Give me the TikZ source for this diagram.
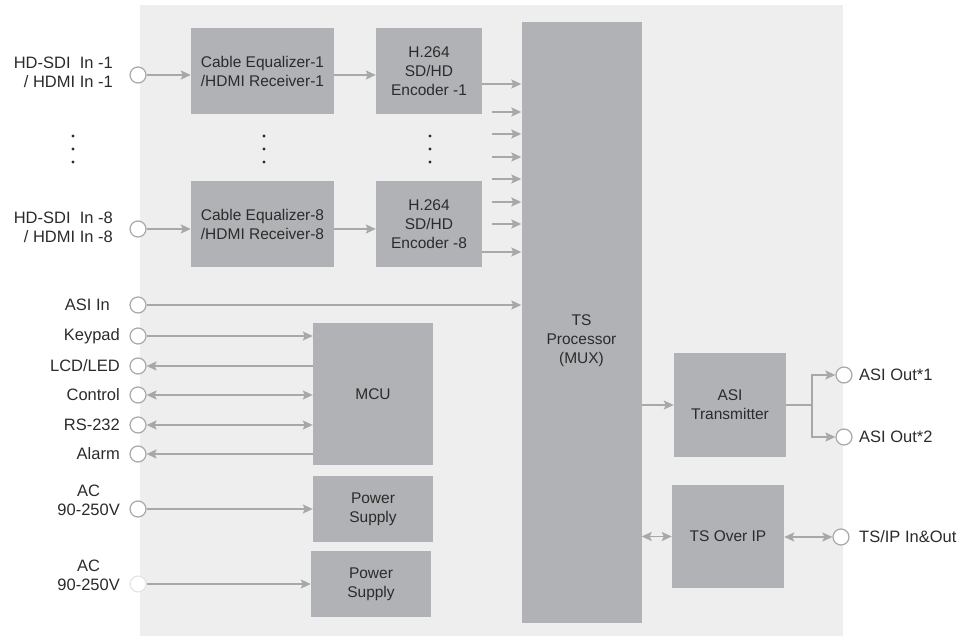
\documentclass[tikz,border=0pt]{standalone}
\usepackage{fontspec}
\setmainfont{Liberation Sans}
\usetikzlibrary{arrows.meta, positioning, calc}
\definecolor{panelgray}{HTML}{EEEEEE}
\definecolor{boxgray}{HTML}{B1B2B5}
\definecolor{linegray}{HTML}{A8A8A8}
\definecolor{textgray}{HTML}{2B2B2B}

\begin{document}
\begin{tikzpicture}[x=1pt, y=-1pt,
  every node/.style={text=textgray, font=\fontsize{15.5}{19}\selectfont},
  box/.style={rectangle, fill=boxgray, inner sep=0pt, align=center},
  port/.style={circle, draw=linegray, fill=white, line width=1.2pt, minimum size=16pt, inner sep=0pt},
  lbl/.style={inner sep=0pt, align=right, anchor=east, font=\fontsize{16.5}{19}\selectfont},
  rlbl/.style={inner sep=0pt, anchor=west, font=\fontsize{16.5}{19}\selectfont},
  arr/.style={draw=linegray, line width=1.8pt, -{Stealth[length=10pt, width=9pt, inset=2pt]}},
  biarr/.style={draw=linegray, line width=1.8pt, {Stealth[length=10pt, width=9pt, inset=2pt]}-{Stealth[length=10pt, width=9pt, inset=2pt]}}]
  \useasboundingbox (0,0) rectangle (964,636);
  \fill[panelgray] (140,5) rectangle (843,636);

  % blocks
  \node[box, minimum width=143pt, minimum height=86pt] (eq1) at (262.5,71) {Cable Equalizer-1\\/HDMI Receiver-1};
  \node[box, minimum width=143pt, minimum height=86pt] (eq8) at (262.5,224.5) {Cable Equalizer-8\\/HDMI Receiver-8};
  \node[box, minimum width=106pt, minimum height=86pt] (enc1) at (429,71) {H.264\\SD/HD\\Encoder -1};
  \node[box, minimum width=106pt, minimum height=86pt] (enc8) at (429,224.5) {H.264\\SD/HD\\Encoder -8};
  \node[box, minimum width=120pt, minimum height=601pt] (ts) at (581.5,322.5) {};
  \node[align=center, inner sep=0pt] (tstxt) at (581.5,341) {TS\\Processor\\(MUX)};
  \node[box, minimum width=120pt, minimum height=142pt] (mcu) at (373,394) {MCU};
  \node[box, minimum width=120pt, minimum height=66pt] (ps1) at (373,509) {Power\\Supply};
  \node[box, minimum width=120pt, minimum height=66pt] (ps2) at (371,584) {Power\\Supply};
  \node[box, minimum width=112pt, minimum height=104pt] (asitx) at (730,405) {ASI\\Transmitter};
  \node[box, minimum width=112pt, minimum height=103pt] (tsip) at (728,536.5) {TS Over IP};

  % ports
  \node[port] (c1) at (138,75) {};
  \node[port] (c8) at (138,229) {};
  \node[port] (casi) at (138,305) {};
  \node[port] (ckey) at (138,336) {};
  \node[port] (clcd) at (138,366) {};
  \node[port] (cctl) at (138,395) {};
  \node[port] (crs) at (138,425) {};
  \node[port] (calm) at (138,454) {};
  \node[port] (cac1) at (138,509) {};
  \node[port, draw=linegray!30] (cac2) at (138,584) {};
  \node[port] (cout1) at (844,375) {};
  \node[port] (cout2) at (844,437) {};
  \node[port] (cip) at (841,537) {};

  % port labels
  \node[lbl] (l1) at (113,72) {HD-SDI\ \ In -1\\/ HDMI In -1};
  \node[lbl] (l8) at (113,227) {HD-SDI\ \ In -8\\/ HDMI In -8};
  \node[lbl] (lasi) at (110,305) {ASI In};
  \node[lbl] (lkey) at (120,336) {Keypad};
  \node[lbl] (llcd) at (120,366) {LCD/LED};
  \node[lbl] (lctl) at (120,395) {Control};
  \node[lbl] (lrs) at (120,425) {RS-232};
  \node[lbl] (lalm) at (120,454) {Alarm};
  \node[lbl, align=center] (lac1) at (120,500) {AC\\90-250V};
  \node[lbl, align=center] (lac2) at (120,575) {AC\\90-250V};
  \node[rlbl] (lout1) at (859,375) {ASI Out*1};
  \node[rlbl] (lout2) at (859,437) {ASI Out*2};
  \node[rlbl] (lip) at (859,537) {TS/IP In\&Out};

  % ellipsis dots
  \foreach \x in {73,264,430}
    \foreach \y in {136,149,162}
      \fill[textgray] (\x,\y) circle (1.7pt);

  % video paths
  \draw[arr] (c1) -- (eq1.west |- c1);
  \draw[arr] (eq1.east |- c1) -- (enc1.west |- c1);
  \draw[arr] (c8) -- (eq8.west |- c8);
  \draw[arr] (eq8.east |- c8) -- (enc8.west |- c8);
  \coordinate (o1) at (482,84);
  \coordinate (o8) at (482,252);
  \draw[arr] (o1) -- (ts.west |- o1);
  \draw[arr] (o8) -- (ts.west |- o8);
  \foreach \y [count=\i] in {112,134,157,179,202,224} {
    \coordinate (s\i) at (492,\y);
    \draw[arr] (s\i) -- (ts.west |- s\i);
  }
  \draw[arr] (casi) -- (ts.west |- casi);

  % control and power
  \draw[arr] (ckey) -- (mcu.west |- ckey);
  \draw[arr] (mcu.west |- clcd) -- (clcd);
  \draw[biarr] (cctl) -- (mcu.west |- cctl);
  \draw[biarr] (crs) -- (mcu.west |- crs);
  \draw[arr] (mcu.west |- calm) -- (calm);
  \draw[arr] (cac1) -- (ps1.west |- cac1);
  \draw[arr] (cac2) -- (ps2.west |- cac2);

  % outputs
  \draw[arr] (ts.east |- asitx) -- (asitx);
  \coordinate (br) at (812,405);
  \draw[arr] (asitx.east) -- (br) |- (cout1);
  \draw[arr] (br) |- (cout2);
  \draw[biarr] (ts.east |- tsip) -- (tsip);
  \draw[biarr] (tsip.east |- cip) -- (cip);
\end{tikzpicture}
\end{document}
